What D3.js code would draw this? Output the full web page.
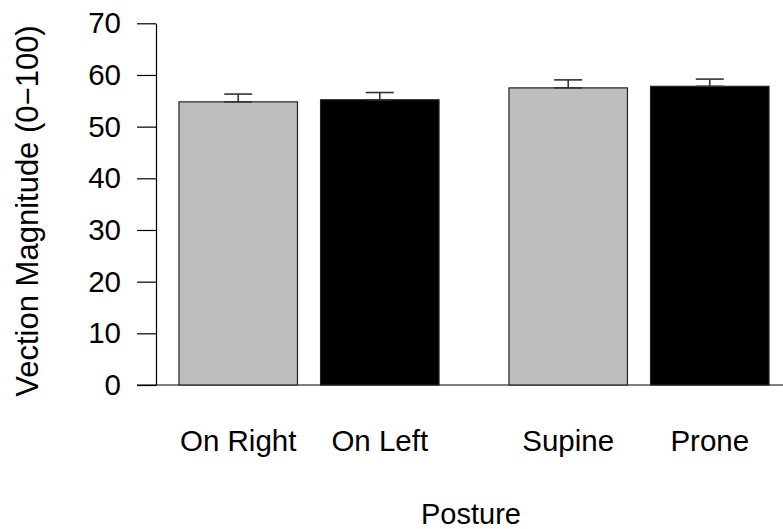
<!DOCTYPE html>
<html>
<head>
<meta charset="utf-8">
<script src="https://cdn.jsdelivr.net/npm/d3@7"></script>
<style>
  body { margin: 0; background: #fff; }
  svg text { font-family: "Liberation Sans", Arial, Helvetica, sans-serif; fill: #000; }
</style>
</head>
<body>
<svg id="chart" width="783" height="529"></svg>
<script>
// chart data
var postures = ['On Right', 'On Left', 'Supine', 'Prone'];
var postureGroup = ['Side', 'Side', 'Back', 'Back'];
var groupNames = ['Side', 'Back'];
var means = [54.8, 55.2, 57.5, 57.8];
var sems = [1.5, 1.4, 1.55, 1.4];
var yTicks = [0, 10, 20, 30, 40, 50, 60, 70];

var data = postures.map(function(p, i) {
    return { posture: p, group: postureGroup[i], slot: i % 2, mean: means[i], se: sems[i] };
});

var svg = d3.select('#chart');
var fontSize = 29.5;

// scales
var yScale = d3.scaleLinear().domain([0, 70]).range([385, 23.3]);
var groupScale = d3.scaleBand().domain(groupNames).range([179, 769])
    .paddingInner(0.212).paddingOuter(0);
var slotScale = d3.scaleBand().domain([0, 1]).range([0, groupScale.bandwidth()])
    .paddingInner(0.163).paddingOuter(0);
var fillScale = d3.scaleOrdinal().domain([0, 1]).range(['#bebebe', '#000000']);

function barX(d) { return groupScale(d.group) + slotScale(d.slot); }
function barMid(d) { return barX(d) + slotScale.bandwidth() / 2; }

// baseline line at zero
svg.append('line')
    .attr('x1', 137).attr('x2', 783)
    .attr('y1', yScale(0)).attr('y2', yScale(0))
    .attr('stroke', '#000').attr('stroke-width', 1.2);

// bars
svg.selectAll('.bar')
    .data(data)
    .enter()
    .append('rect')
    .attr('class', 'bar')
    .attr('x', barX)
    .attr('y', function(d) { return yScale(d.mean); })
    .attr('width', slotScale.bandwidth())
    .attr('height', function(d) { return yScale(0) - yScale(d.mean); })
    .attr('fill', function(d) { return fillScale(d.slot); })
    .attr('stroke', '#222')
    .attr('stroke-width', 1.2);

// error bars (upper only, capped both ends)
var capHalf = 14;
var err = svg.selectAll('.err')
    .data(data)
    .enter()
    .append('g')
    .attr('class', 'err')
    .attr('stroke', '#333')
    .attr('stroke-width', 1.6);

err.append('line')
    .attr('x1', barMid).attr('x2', barMid)
    .attr('y1', function(d) { return yScale(d.mean); })
    .attr('y2', function(d) { return yScale(d.mean + d.se); });

err.append('line')
    .attr('x1', function(d) { return barMid(d) - capHalf; })
    .attr('x2', function(d) { return barMid(d) + capHalf; })
    .attr('y1', function(d) { return yScale(d.mean + d.se); })
    .attr('y2', function(d) { return yScale(d.mean + d.se); });

err.append('line')
    .attr('x1', function(d) { return barMid(d) - capHalf; })
    .attr('x2', function(d) { return barMid(d) + capHalf; })
    .attr('y1', function(d) { return yScale(d.mean); })
    .attr('y2', function(d) { return yScale(d.mean); });

// y axis
var yAxis = d3.axisLeft(yScale)
    .tickValues(yTicks)
    .tickSize(19)
    .tickSizeOuter(0)
    .tickPadding(16);

var yG = svg.append('g')
    .attr('transform', 'translate(156,0)')
    .call(yAxis);
yG.selectAll('path, line').attr('stroke', '#000').attr('stroke-width', 1.2);
yG.selectAll('text')
    .attr('fill', '#000')
    .style('font-size', fontSize + 'px')
    .style('font-family', '"Liberation Sans", Arial, sans-serif');

// x category labels
svg.selectAll('.xlab')
    .data(data)
    .enter()
    .append('text')
    .attr('class', 'xlab')
    .attr('x', barMid)
    .attr('y', 451)
    .attr('text-anchor', 'middle')
    .style('font-size', fontSize + 'px')
    .text(function(d) { return d.posture; });

// axis titles
svg.append('text')
    .attr('x', 471)
    .attr('y', 524)
    .attr('text-anchor', 'middle')
    .style('font-size', '29px')
    .text('Posture');

svg.append('text')
    .attr('transform', 'translate(38,211) rotate(-90)')
    .attr('text-anchor', 'middle')
    .style('font-size', '31px')
    .text('Vection Magnitude (0\u2212100)');
</script>
</body>
</html>
